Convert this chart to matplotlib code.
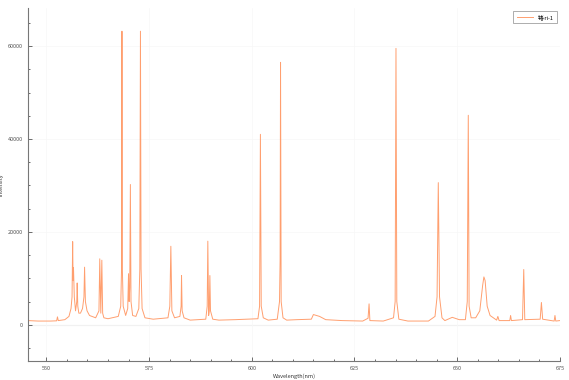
import matplotlib.pyplot as plt
from matplotlib.ticker import MultipleLocator

plt.rcParams['font.family'] = ['Noto Sans CJK SC', 'DejaVu Sans']

# 光谱数据 (从图中读取的波长/强度点)
wavelength = [545.5, 548, 551, 552.5, 552.7, 552.9, 554.5, 555.5, 556.0, 556.25,
              556.4, 556.5, 556.6, 556.8, 557.1, 557.4, 557.5, 557.65, 557.9, 558.3,
              558.8, 559.15, 559.3, 559.5, 559.9, 560.5, 562.0, 562.8, 563.0, 563.25,
              563.5, 563.7, 564, 565, 567.5, 568.1, 568.3, 568.4, 568.5, 568.7,
              569.3, 569.8, 570.0, 570.15, 570.3, 570.45, 570.6, 571.0, 571.8, 572.5,
              572.75, 572.9, 573.05, 573.3, 574, 576, 579.6, 580.05, 580.3, 580.55,
              581.2, 582.5, 582.8, 582.9, 583.05, 583.5, 585, 588.8, 589.15, 589.3,
              589.5, 589.65, 589.8, 589.95, 590.5, 592, 596, 601.5, 601.9, 602.1,
              602.3, 602.8, 604, 606.2, 606.75, 606.9, 607.0, 607.15, 607.6, 608.5,
              611, 614.5, 615.0, 616.5, 618, 622, 627, 628.3, 628.55, 628.75,
              632, 634.5, 634.9, 635.1, 635.3, 635.8, 638, 643, 644.6, 645.1,
              645.4, 645.7, 646.3, 647, 648.8, 650.5, 652.0, 652.45, 652.7, 652.9,
              653.4, 654.5, 655.5, 656.2, 656.5, 656.8, 657.3, 658, 659.6, 659.9,
              660.2, 662.8, 663.0, 663.2, 665.9, 666.2, 666.45, 670.2, 670.5, 670.8,
              673.6, 673.8, 674, 675]
intensity = [900, 800, 800, 850, 1700, 900, 1100, 1800, 3500, 6000,
             17900, 9500, 12300, 6000, 3000, 5000, 9000, 4000, 2500, 2500,
             3500, 6000, 12400, 5000, 3000, 2000, 1500, 3000, 14200, 2500,
             13900, 2500, 1500, 1300, 1800, 4000, 12000, 63200, 12000, 4000,
             2000, 3500, 11000, 5000, 8000, 30200, 5000, 2000, 1800, 3500,
             12000, 63200, 12000, 3500, 1500, 1200, 1500, 4000, 16900, 3000,
             1500, 1800, 4000, 10600, 3000, 1500, 1000, 1200, 4000, 18000,
             2000, 3000, 10600, 3000, 1200, 1000, 1100, 1300, 4000, 41000,
             4000, 1500, 1000, 1200, 5000, 14000, 56500, 5000, 1500, 1000,
             1100, 1200, 2200, 1800, 1100, 900, 800, 1400, 4500, 900,
             800, 1500, 5000, 59500, 5000, 1200, 800, 800, 1800, 6000,
             30600, 6000, 1500, 900, 1600, 1100, 1100, 5000, 45100, 4000,
             1500, 1500, 3000, 8500, 10300, 9500, 4000, 2000, 1000, 1800,
             900, 900, 2000, 900, 1100, 11900, 1100, 1200, 4800, 1200,
             800, 2000, 800, 900]
series_name = '锗-ri-1'

fig = plt.figure(figsize=(5.69, 3.80), dpi=100)
ax = fig.add_axes([0.049, 0.05, 0.935, 0.929])

ax.axhline(0, color='#e6e6e6', lw=0.8, zorder=1)
ax.plot(wavelength, intensity, color='#FF9F6F', lw=0.7, label=series_name, zorder=2)

ax.set_xlim(545.5, 675)
ax.set_ylim(-7800, 68200)
ax.xaxis.set_major_locator(MultipleLocator(25))
ax.xaxis.set_minor_locator(MultipleLocator(5))
ax.yaxis.set_major_locator(MultipleLocator(20000))
ax.yaxis.set_minor_locator(MultipleLocator(5000))
ax.tick_params(which='both', direction='in', labelsize=4, colors='#555555',
               width=0.6)
ax.tick_params(which='major', length=3)
ax.tick_params(which='minor', length=1.5)
ax.grid(True, which='major', color='#f7f7f7', lw=0.5)

for s in ['top', 'right']:
    ax.spines[s].set_visible(False)
for s in ['left', 'bottom']:
    ax.spines[s].set_color('#777777')
    ax.spines[s].set_linewidth(0.8)

ax.set_xlabel('Wavelength(nm)', fontsize=4, color='#333333', labelpad=2)
ax.set_ylabel('Intensity', fontsize=4, color='#333333', labelpad=3)

leg = ax.legend(loc='upper right', fontsize=4, frameon=True, fancybox=False,
                edgecolor='#888888', handlelength=3, borderpad=0.6)
leg.get_frame().set_linewidth(0.6)

fig.savefig('out.png', dpi=100)
